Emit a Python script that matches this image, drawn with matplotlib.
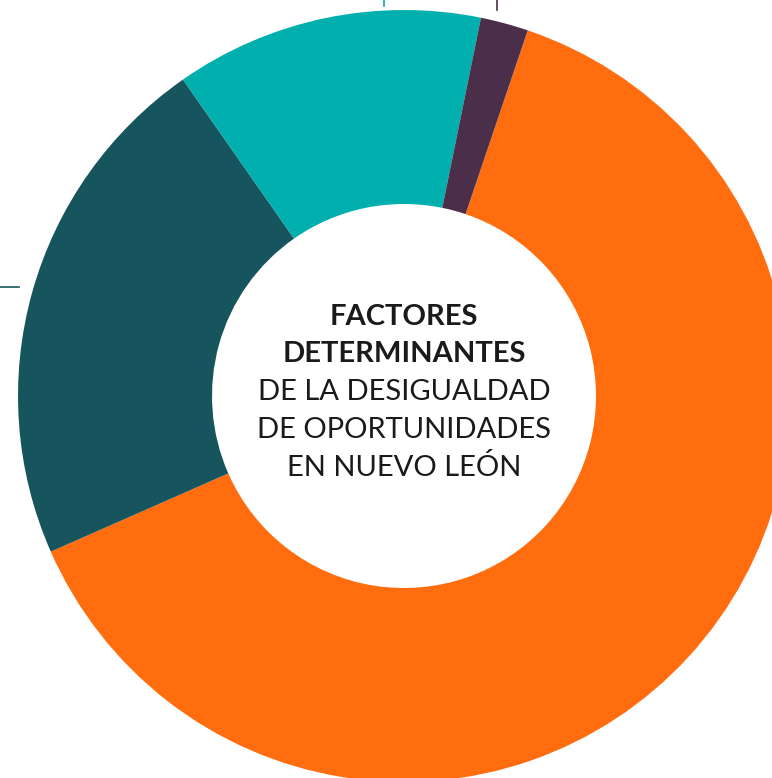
import matplotlib.pyplot as plt

factors = ['Circunstancias', 'Factor 2', 'Factor 3', 'Factor 4']
shares = [63.2, 21.9, 12.9, 2.0]
colors = ['#FF6D0F', '#17555E', '#00AFAE', '#4B2F4A']

title_bold = ['FACTORES', 'DETERMINANTES']
title_regular = ['DE LA DESIGUALDAD', 'DE OPORTUNIDADES', 'EN NUEVO LEÓN']

W, H = 772, 778
fig = plt.figure(figsize=(W / 100, H / 100), dpi=100)
ax = fig.add_axes([0, 0, 1, 1])

cx, cy = 404, H - 396
r_out, r_in = 386, 192

ax.pie(shares, colors=colors, startangle=90 - 18.7, counterclock=False,
       center=(cx, cy), radius=r_out,
       wedgeprops=dict(width=r_out - r_in, linewidth=0))

# little leader ticks poking in from the edges
ax.plot([384, 384], [H, H - 6], color='#00AFAE', lw=1.2)
ax.plot([497, 497], [H, H - 10], color='#4B2F4A', lw=1.2)
ax.plot([0, 19], [H - 287, H - 287], color='#17555E', lw=1.2)

# centre label
baselines = [325, 362, 400, 438, 476]
lines = title_bold + title_regular
for i, (txt, yb) in enumerate(zip(lines, baselines)):
    ax.text(cx, H - yb, txt, ha='center', va='baseline',
            fontsize=21, family='Lato', color='#1a1a1a',
            fontweight='bold' if i < len(title_bold) else 'normal')

ax.set_xlim(0, W)
ax.set_ylim(0, H)
ax.set_aspect('equal')
ax.axis('off')

fig.savefig('out.png', dpi=100, facecolor='white')
